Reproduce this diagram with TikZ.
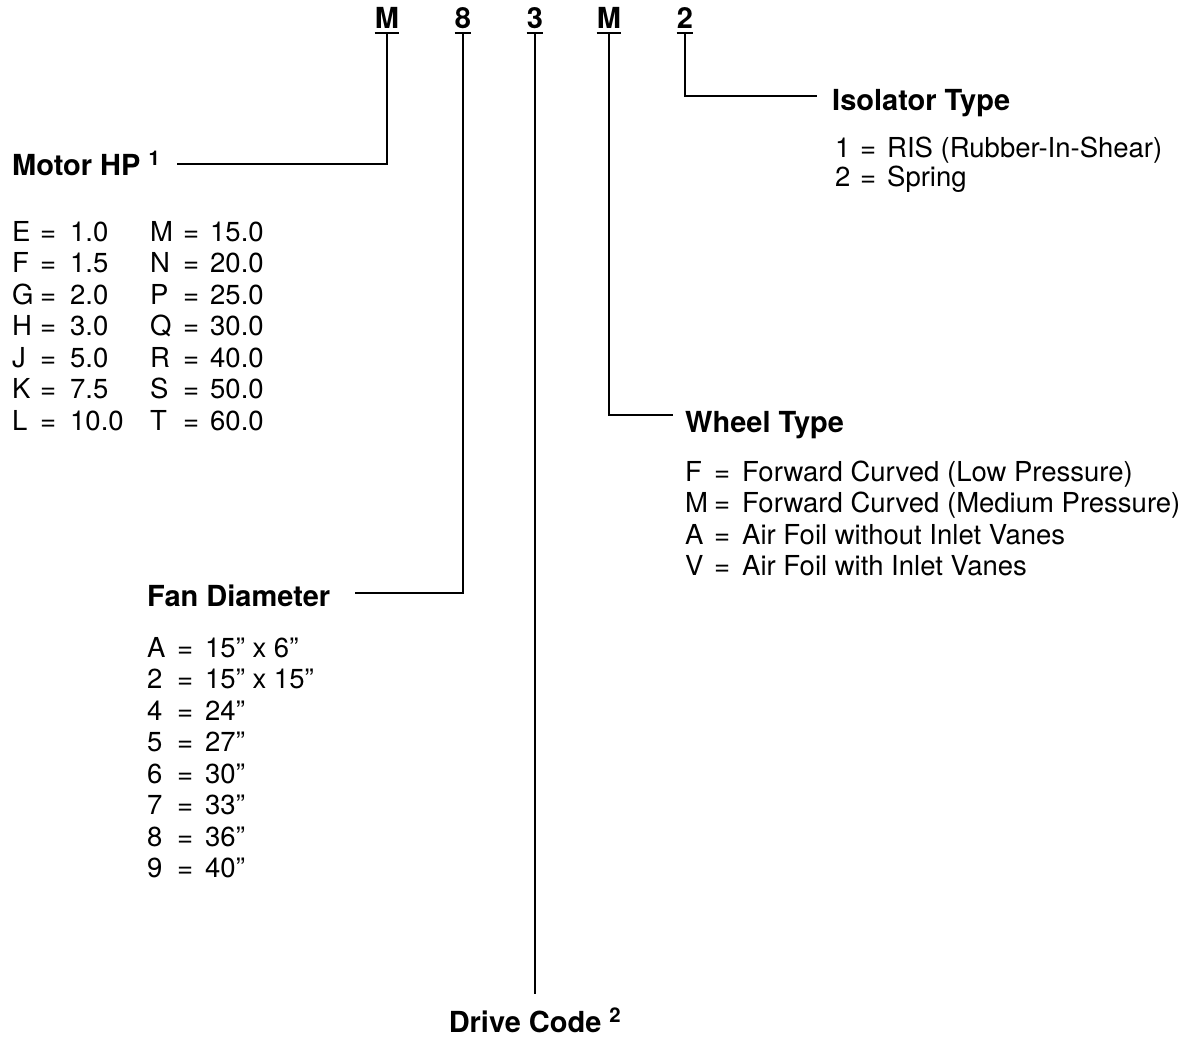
\documentclass[tikz,border=0pt]{standalone}
\usepackage{fontspec}
\setmainfont{TeX Gyre Heros}
\newcommand\kvrow[5]{\makebox[#1][l]{#2}\makebox[#3][l]{=}#4#5}
\begin{document}
\begin{tikzpicture}[x=1pt,y=-1pt,
  code/.style={font=\fontsize{29}{29}\selectfont\bfseries, inner sep=0pt, anchor=base},
  head/.style={font=\fontsize{29}{29}\selectfont\bfseries, inner sep=0pt, anchor=base west},
  item/.style={font=\fontsize{27.5}{27.5}\selectfont, inner sep=0pt, anchor=base west},
  conn/.style={line width=2.7pt},
  uline/.style={line width=2.7pt}]
\useasboundingbox (0,0) rectangle (1196,1036);

% code letters
\node[code] (c1) at (387,28) {M};
\node[code] (c2) at (463,28) {8};
\node[code] (c3) at (535,28) {3};
\node[code] (c4) at (609,28) {M};
\node[code] (c5) at (685,28) {2};
\foreach \c in {c1,c2,c3,c4,c5}{
  \draw[uline] ([yshift=-5pt]\c.base west) -- ([yshift=-5pt]\c.base east);
  \coordinate (\c u) at ([yshift=-5pt]\c.base);
}

% headings
\node[head] (mhp) at (12,175) {Motor HP \textsuperscript{1}};
\node[head] (fd) at (147,606) {Fan Diameter};
\node[head, anchor=base] (dc) at (535,1032) {Drive Code \textsuperscript{2}};
\node[head] (wt) at (685,432) {Wheel Type};
\node[head] (it) at (832,110) {Isolator Type};

% connector ends
\coordinate (mhp-in) at (177,164);
\coordinate (fd-in) at (355,593);
\coordinate (dc-in) at (535,994);
\coordinate (wt-in) at (673,415);
\coordinate (it-in) at (817,96);

\draw[conn] (c1u) |- (mhp-in);
\draw[conn] (c2u) |- (fd-in);
\draw[conn] (c3u) -- (dc-in);
\draw[conn] (c4u) |- (wt-in);
\draw[conn] (c5u) |- (it-in);

% Motor HP list
\node[item] (m1) at (12,241) {\kvrow{28pt}{E}{30pt}{1.0}{}};
\node[item] (m2) at (12,272) {\kvrow{28pt}{F}{30pt}{1.5}{}};
\node[item] (m3) at (12,304) {\kvrow{28pt}{G}{30pt}{2.0}{}};
\node[item] (m4) at (12,335) {\kvrow{28pt}{H}{30pt}{3.0}{}};
\node[item] (m5) at (12,367) {\kvrow{28pt}{J}{30pt}{5.0}{}};
\node[item] (m6) at (12,398) {\kvrow{28pt}{K}{30pt}{7.5}{}};
\node[item] (m7) at (12,430) {\kvrow{28pt}{L}{30pt}{10.0}{}};
\node[item] (n1) at (150,241) {\kvrow{33pt}{M}{27pt}{15.0}{}};
\node[item] (n2) at (150,272) {\kvrow{33pt}{N}{27pt}{20.0}{}};
\node[item] (n3) at (150,304) {\kvrow{33pt}{P}{27pt}{25.0}{}};
\node[item] (n4) at (150,335) {\kvrow{33pt}{Q}{27pt}{30.0}{}};
\node[item] (n5) at (150,367) {\kvrow{33pt}{R}{27pt}{40.0}{}};
\node[item] (n6) at (150,398) {\kvrow{33pt}{S}{27pt}{50.0}{}};
\node[item] (n7) at (150,430) {\kvrow{33pt}{T}{27pt}{60.0}{}};

% Fan diameter list
\node[item] (f1) at (147,657) {\kvrow{30pt}{A}{28pt}{15'' x 6''}{}};
\node[item] (f2) at (147,688) {\kvrow{30pt}{2}{28pt}{15'' x 15''}{}};
\node[item] (f3) at (147,720) {\kvrow{30pt}{4}{28pt}{24''}{}};
\node[item] (f4) at (147,751) {\kvrow{30pt}{5}{28pt}{27''}{}};
\node[item] (f5) at (147,783) {\kvrow{30pt}{6}{28pt}{30''}{}};
\node[item] (f6) at (147,814) {\kvrow{30pt}{7}{28pt}{33''}{}};
\node[item] (f7) at (147,846) {\kvrow{30pt}{8}{28pt}{36''}{}};
\node[item] (f8) at (147,877) {\kvrow{30pt}{9}{28pt}{40''}{}};

% Wheel type list
\node[item] (w1) at (685,481) {\kvrow{29pt}{F}{28pt}{Forward Curved (Low Pressure)}{}};
\node[item] (w2) at (685,512) {\kvrow{29pt}{M}{28pt}{Forward Curved (Medium Pressure)}{}};
\node[item] (w3) at (685,544) {\kvrow{29pt}{A}{28pt}{Air Foil without Inlet Vanes}{}};
\node[item] (w4) at (685,575) {\kvrow{29pt}{V}{28pt}{Air Foil with Inlet Vanes}{}};

% Isolator list
\node[item] (i1) at (835,157) {\kvrow{25pt}{1}{27pt}{RIS (Rubber-In-Shear)}{}};
\node[item] (i2) at (835,186) {\kvrow{25pt}{2}{27pt}{Spring}{}};
\end{tikzpicture}
\end{document}
